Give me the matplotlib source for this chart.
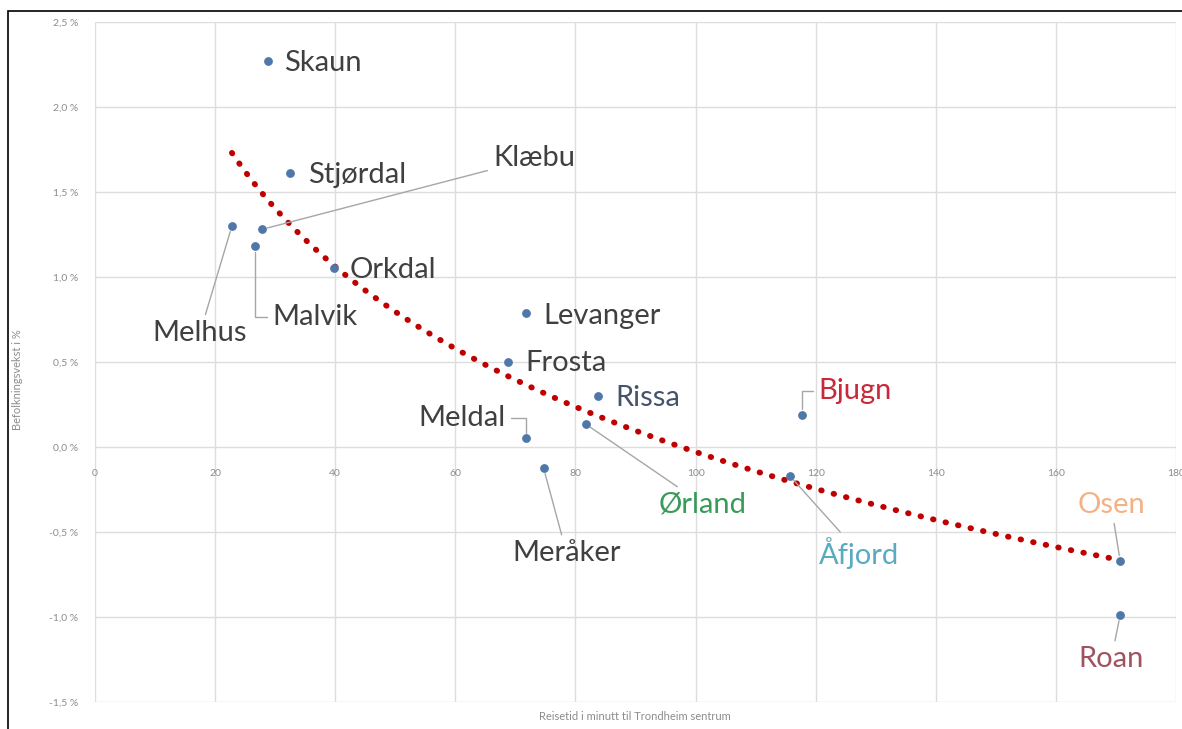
import numpy as np
import matplotlib
matplotlib.use("Agg")
import matplotlib.pyplot as plt
from matplotlib.patches import Rectangle

# ---- data ----
kommuner = ["Skaun", "Stjørdal", "Klæbu", "Melhus", "Malvik", "Orkdal",
            "Levanger", "Frosta", "Rissa", "Meldal", "Ørland", "Meråker",
            "Bjugn", "Åfjord", "Osen", "Roan"]
reisetid = [28.8, 32.5, 27.8, 22.8, 26.7, 39.8,
            71.7, 68.7, 83.8, 71.7, 81.7, 74.7,
            117.7, 115.7, 170.7, 170.7]
vekst = [2.27, 1.61, 1.28, 1.30, 1.18, 1.05,
         0.79, 0.50, 0.30, 0.05, 0.135, -0.125,
         0.19, -0.17, -0.67, -0.99]

y_ticks = [2.5, 2.0, 1.5, 1.0, 0.5, 0.0, -0.5, -1.0, -1.5]
x_ticks = [0, 20, 40, 60, 80, 100, 120, 140, 160, 180]

# ---- label styling: colour, offset in pixels, alignment, leader style ----
GRA = "#404040"
label_style = {
    "Skaun":    (GRA, (16, -2), "left", None),
    "Stjørdal": (GRA, (18, -2), "left", None),
    "Orkdal":   (GRA, (16, -2), "left", None),
    "Levanger": (GRA, (18, -3), "left", None),
    "Frosta":   (GRA, (18, -1), "left", None),
    "Rissa":    ("#44546A", (17, -2), "left", None),
    "Klæbu":    (GRA, (231, 71), "left", "straight"),
    "Melhus":   (GRA, (-32, -107), "center", "straight"),
    "Malvik":   (GRA, (17, -71), "left", "angle"),
    "Meldal":   (GRA, (-20, 20), "right", "angle"),
    "Meråker":  (GRA, (23, -85), "center", "straight"),
    "Ørland":   ("#3A9A5B", (73, -80), "left", "straight"),
    "Bjugn":    ("#C8283A", (17, 24), "left", "angle"),
    "Åfjord":   ("#5AAAC0", (29, -77), "left", "straight"),
    "Osen":     ("#F4B183", (-9, 56), "center", "straight"),
    "Roan":     ("#A0525F", (-9, -44), "center", "straight"),
}

plt.rcParams["font.family"] = ["Lato", "DejaVu Sans"]

fig = plt.figure(figsize=(11.82, 7.29), dpi=100)
ax = fig.add_axes([95 / 1182, 1 - 702 / 729, 1081 / 1182, 680 / 729])

# outer chart frame (cut off right and bottom like the screenshot)
fig.patches.append(Rectangle((8 / 1182, -0.05), 1.2, 1 - 11 / 729 + 0.05,
                             transform=fig.transFigure, fill=False,
                             edgecolor="black", linewidth=1.2))

ax.set_xlim(0, 180)
ax.set_ylim(-1.5, 2.5)
ax.set_xticks(x_ticks)
ax.set_yticks(y_ticks)
ax.set_yticklabels([f"{v:.1f} %".replace(".", ",") for v in y_ticks])
ax.grid(True, color="#DDDDDD", linewidth=1)
for s in ax.spines.values():
    s.set_visible(False)
ax.spines["bottom"].set_position(("data", 0))
ax.tick_params(length=0, labelsize=7.5, labelcolor="#8C8C8C")
ax.tick_params(axis="x", pad=16)
ax.tick_params(axis="y", pad=12)
ax.set_axisbelow(True)

# trendline (logarithmic, like Excel)
b, a = np.polyfit(np.log(reisetid), vekst, 1)
xs = np.linspace(min(reisetid), max(reisetid), 300)
ax.plot(xs, a + b * np.log(xs), color="#C00000", linewidth=4.2,
        linestyle=(0, (0.1, 2.1)), dash_capstyle="round", zorder=3)

ax.scatter(reisetid, vekst, s=28, color="#4F77A8", zorder=4)

for navn, x, y in zip(kommuner, reisetid, vekst):
    farge, off, ha, leader = label_style[navn]
    props = None
    if leader == "straight":
        props = dict(arrowstyle="-", color="#A6A6A6", linewidth=1,
                     shrinkA=2, shrinkB=4)
    elif leader == "angle":
        props = dict(arrowstyle="-", color="#A6A6A6", linewidth=1,
                     shrinkA=2, shrinkB=4,
                     connectionstyle="angle,angleA=0,angleB=90,rad=0")
    ax.annotate(navn, (x, y), xytext=off, textcoords="offset pixels",
                ha=ha, va="center", fontsize=21, color=farge,
                arrowprops=props, zorder=5)

fig.text(18 / 1182, 1 - 380 / 729, "Befolkningsvekst i %", rotation=90,
         ha="center", va="center", fontsize=8, color="#8C8C8C")
fig.text(635 / 1182, 1 - 717 / 729, "Reisetid i minutt til Trondheim sentrum",
         ha="center", va="center", fontsize=8, color="#8C8C8C")

fig.savefig("out.png", dpi=100)
